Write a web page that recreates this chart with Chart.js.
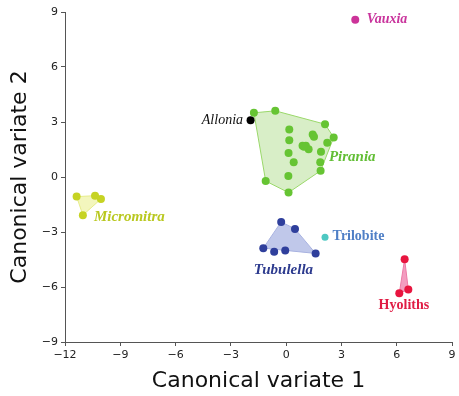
<!DOCTYPE html>
<html>
<head>
<meta charset="utf-8">
<script src="https://cdn.jsdelivr.net/npm/chart.js@4.4.1/dist/chart.umd.min.js"></script>
<style>
  html, body { margin: 0; padding: 0; background: #fff; }
  #wrap { width: 459px; height: 396px; }
</style>
</head>
<body>
<div id="wrap"><canvas id="myChart"></canvas></div>
<script>
// group scores on the first two canonical variates
const piraniaX = [-1.75, -0.59, 2.11, 2.58, 2.23, 1.89, 1.85, 1.87, 0.13, -1.11, 0.17, 0.17, 0.13, 0.41, 0.12, 1.44, 1.51, 0.89, 1.07, 1.22, 0.97];
const piraniaY = [3.50, 3.61, 2.88, 2.16, 1.87, 1.38, 0.80, 0.34, -0.85, -0.22, 2.59, 2.01, 1.31, 0.80, 0.05, 2.32, 2.19, 1.70, 1.70, 1.51, 1.65];
const piraniaHull = [0, 1, 2, 3, 7, 8, 9];

const micromitraX = [-11.37, -10.37, -10.05, -11.03];
const micromitraY = [-1.07, -1.02, -1.20, -2.08];
const micromitraHull = [0, 1, 2, 3];

const tubulellaX = [-0.27, 0.48, -1.24, -0.65, -0.05, 1.60];
const tubulellaY = [-2.45, -2.83, -3.88, -4.08, -4.01, -4.17];
const tubulellaHull = [0, 1, 5, 2];

const hyolithsX = [6.43, 6.63, 6.14];
const hyolithsY = [-4.48, -6.14, -6.34];
const hyolithsHull = [0, 1, 2];

const vauxiaX = [3.75];
const vauxiaY = [8.58];
const alloniaX = [-1.93];
const alloniaY = [3.10];
const trilobiteX = [2.11];
const trilobiteY = [-3.28];

const xTicks = [-12, -9, -6, -3, 0, 3, 6, 9];
const yTicks = [-9, -6, -3, 0, 3, 6, 9];

function pts(xs, ys) {
    return xs.map((x, i) => ({ x: x, y: ys[i] }));
}
function hull(xs, ys, idx) {
    const p = idx.map(i => ({ x: xs[i], y: ys[i] }));
    p.push(p[0]);
    return p;
}
function hullSet(data, fill, line) {
    return {
        data: data,
        showLine: true,
        fill: 'shape',
        backgroundColor: fill,
        borderColor: line,
        borderWidth: 1,
        pointRadius: 0,
        order: 2
    };
}
function pointSet(data, color, r) {
    return {
        data: data,
        backgroundColor: color,
        borderColor: color,
        pointRadius: r,
        pointBorderWidth: 0,
        order: 1
    };
}

// group names drawn next to the points
const groupLabels = [
    { text: 'Vauxia', x: 4.38, y: 8.6, align: 'left', font: 'italic bold 14px "Liberation Serif"', color: '#c9339c' },
    { text: 'Allonia', x: -2.34, y: 3.1, align: 'right', font: 'italic 14px "Liberation Serif"', color: '#111' },
    { text: 'Pirania', x: 2.32, y: 1.09, align: 'left', font: 'italic bold 15px "Liberation Serif"', color: '#62be35' },
    { text: 'Micromitra', x: -10.43, y: -2.18, align: 'left', font: 'italic bold 15px "Liberation Serif"', color: '#b9c820' },
    { text: 'Tubulella', x: -0.15, y: -5.06, align: 'center', font: 'italic bold 15px "Liberation Serif"', color: '#2c3a8e' },
    { text: 'Trilobite', x: 2.52, y: -3.26, align: 'left', font: 'bold 14px "Liberation Serif"', color: '#4f7fc6' },
    { text: 'Hyoliths', x: 6.39, y: -7.0, align: 'center', font: 'bold 14px "Liberation Serif"', color: '#e01c44' }
];

const labelPlugin = {
    id: 'groupLabels',
    afterDatasetsDraw(chart) {
        const ctx = chart.ctx;
        const xs = chart.scales.x, ys = chart.scales.y;
        ctx.save();
        ctx.textBaseline = 'middle';
        groupLabels.forEach(l => {
            ctx.font = l.font;
            ctx.fillStyle = l.color;
            ctx.textAlign = l.align;
            ctx.fillText(l.text, xs.getPixelForValue(l.x), ys.getPixelForValue(l.y));
        });
        ctx.restore();
    }
};

const minus = v => String(v).replace('-', '\u2212');

const ctx = document.getElementById('myChart').getContext('2d');

new Chart(ctx, {
    type: 'scatter',
    data: {
        datasets: [
            hullSet(hull(piraniaX, piraniaY, piraniaHull), 'rgba(125, 200, 70, 0.3)', '#9ad86a'),
            hullSet(hull(micromitraX, micromitraY, micromitraHull), 'rgba(225, 232, 90, 0.4)', '#e6ec8a'),
            hullSet(hull(tubulellaX, tubulellaY, tubulellaHull), 'rgba(60, 85, 190, 0.32)', '#a8b2e0'),
            hullSet(hull(hyolithsX, hyolithsY, hyolithsHull), 'rgba(232, 60, 130, 0.5)', '#ec7aa6'),
            pointSet(pts(piraniaX, piraniaY), '#66c433', 4),
            pointSet(pts(micromitraX, micromitraY), '#c6d323', 4),
            pointSet(pts(tubulellaX, tubulellaY), '#2f3f9c', 4),
            pointSet(pts(hyolithsX, hyolithsY), '#e8153f', 4),
            pointSet(pts(vauxiaX, vauxiaY), '#cc3399', 4),
            pointSet(pts(alloniaX, alloniaY), '#000000', 4),
            pointSet(pts(trilobiteX, trilobiteY), '#4ec8c2', 3.5)
        ]
    },
    options: {
        responsive: true,
        maintainAspectRatio: false,
        animation: false,
        layout: { padding: { top: 12, right: 7, left: 0, bottom: 0 } },
        plugins: {
            legend: { display: false },
            tooltip: { enabled: false }
        },
        scales: {
            x: {
                type: 'linear',
                min: -12,
                max: 9,
                afterBuildTicks: s => { s.ticks = xTicks.map(v => ({ value: v })); },
                afterFit: s => { s.height = 54; },
                ticks: {
                    padding: 3,
                    color: '#222',
                    font: { family: 'DejaVu Sans', size: 11 },
                    callback: minus
                },
                grid: { drawOnChartArea: false, drawTicks: true, tickLength: 4, color: '#555' },
                border: { display: true, color: '#555', width: 1 },
                title: {
                    display: true,
                    text: 'Canonical variate 1',
                    color: '#111',
                    font: { family: 'DejaVu Sans', size: 22 },
                    padding: { top: 0, bottom: 2 }
                }
            },
            y: {
                type: 'linear',
                min: -9,
                max: 9,
                afterBuildTicks: s => { s.ticks = yTicks.map(v => ({ value: v })); },
                afterFit: s => { s.width = 65; },
                ticks: {
                    padding: 3,
                    color: '#222',
                    font: { family: 'DejaVu Sans', size: 11 },
                    callback: minus
                },
                grid: { drawOnChartArea: false, drawTicks: true, tickLength: 4, color: '#555' },
                border: { display: true, color: '#555', width: 1 },
                title: {
                    display: true,
                    text: 'Canonical variate 2',
                    color: '#111',
                    font: { family: 'DejaVu Sans', size: 22 },
                    padding: { top: 7, bottom: 0 }
                }
            }
        }
    },
    plugins: [labelPlugin]
});
</script>
</body>
</html>
